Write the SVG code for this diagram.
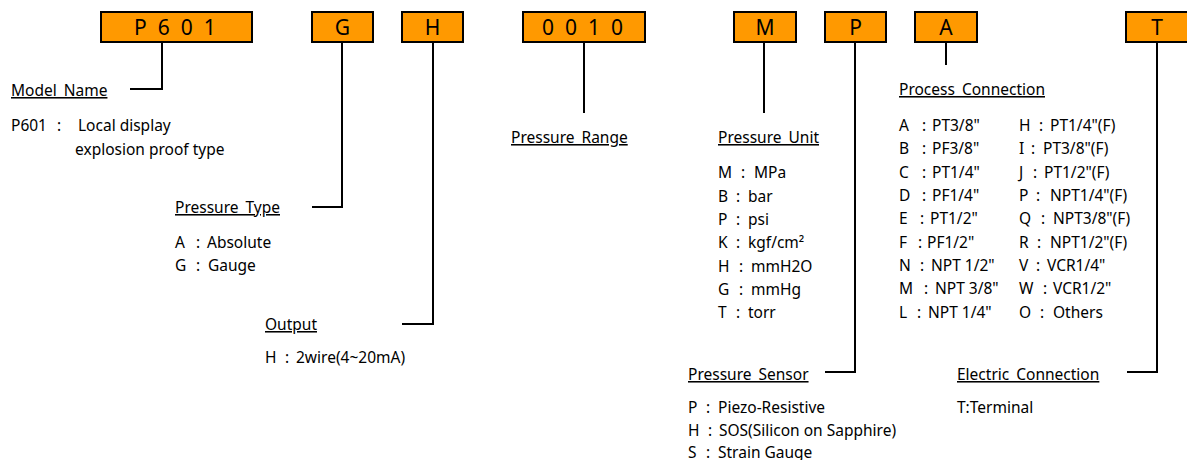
<svg xmlns="http://www.w3.org/2000/svg" width="1187" height="460" viewBox="0 0 1187 460">
<style>
.box{fill:#FF9900;stroke:#000;stroke-width:2}
.bt{font-family:"Noto Sans","DejaVu Sans",sans-serif;font-size:21px;fill:#000}
.c{text-anchor:middle}
.t{font-family:"Noto Sans","DejaVu Sans",sans-serif;font-size:15.5px;fill:#000}
.h{text-decoration:underline;word-spacing:3px}
.ln{fill:none;stroke:#000;stroke-width:2}
</style>
<rect width="1187" height="460" fill="#fff"/>
<g id="connectors">
<path class="ln" d="M162,42V89H130"/>
<path class="ln" d="M342,42V207H312"/>
<path class="ln" d="M433,42V324H402"/>
<path class="ln" d="M584,42V113"/>
<path class="ln" d="M764,42V113"/>
<path class="ln" d="M855,42V372H825"/>
<path class="ln" d="M946,42V65"/>
<path class="ln" d="M1157,42V372H1127"/>
</g>
<g id="n-p601"><rect class="box" x="101" y="12" width="151" height="30"/><text class="bt" x="134" y="35" letter-spacing="11">P601</text></g>
<g id="n-g"><rect class="box" x="312" y="12" width="61" height="30"/><text class="bt c" x="342.5" y="35">G</text></g>
<g id="n-h"><rect class="box" x="402" y="12" width="61" height="30"/><text class="bt c" x="432.5" y="35">H</text></g>
<g id="n-0010"><rect class="box" x="523" y="12" width="122" height="30"/><text class="bt" x="542" y="35" letter-spacing="11">0010</text></g>
<g id="n-m"><rect class="box" x="734" y="12" width="62" height="30"/><text class="bt c" x="765" y="35">M</text></g>
<g id="n-p"><rect class="box" x="825" y="12" width="61" height="30"/><text class="bt c" x="855.5" y="35">P</text></g>
<g id="n-a"><rect class="box" x="915" y="12" width="62" height="30"/><text class="bt c" x="946" y="35">A</text></g>
<g id="n-t"><rect class="box" x="1126" y="12" width="62" height="30"/><text class="bt c" x="1157" y="35">T</text></g>

<g id="model-name">
<text class="t h" x="11" y="96">Model Name</text>
<text class="t" x="11" y="131">P601</text><text class="t" x="57" y="131">:</text><text class="t" x="78" y="131">Local display</text>
<text class="t" x="75" y="155">explosion proof type</text>
</g>
<g id="pressure-type">
<text class="t h" x="175" y="213">Pressure Type</text>
<text class="t" x="175" y="248">A</text><text class="t" x="196" y="248">:</text><text class="t" x="207" y="248">Absolute</text>
<text class="t" x="175" y="271">G</text><text class="t" x="196" y="271">:</text><text class="t" x="208" y="271">Gauge</text>
</g>
<g id="output">
<text class="t h" x="265" y="330">Output</text>
<text class="t" x="265" y="363">H</text><text class="t" x="285" y="363">:</text><text class="t" x="296" y="363">2wire(4~20mA)</text>
</g>
<g id="pressure-range">
<text class="t h" x="511" y="143">Pressure Range</text>
</g>
<g id="pressure-unit">
<text class="t h" x="718" y="143">Pressure Unit</text>
<g class="t">
<text x="718" y="178">M</text><text x="741" y="178">:</text><text x="754" y="178">MPa</text>
<text x="718" y="202">B</text><text x="736" y="202">:</text><text x="748" y="202">bar</text>
<text x="718" y="225">P</text><text x="736" y="225">:</text><text x="748" y="225">psi</text>
<text x="718" y="248">K</text><text x="736" y="248">:</text><text x="748" y="248">kgf/cm²</text>
<text x="718" y="272">H</text><text x="739" y="272">:</text><text x="751" y="272">mmH2O</text>
<text x="718" y="295">G</text><text x="739" y="295">:</text><text x="751" y="295">mmHg</text>
<text x="718" y="318">T</text><text x="736" y="318">:</text><text x="748" y="318">torr</text>
</g>
</g>
<g id="process-connection">
<text class="t h" x="899" y="95">Process Connection</text>
<g class="t">
<text x="899" y="131">A</text><text x="922" y="131">:</text><text x="932" y="131">PT3/8"</text>
<text x="899" y="154">B</text><text x="922" y="154">:</text><text x="932" y="154">PF3/8"</text>
<text x="899" y="178">C</text><text x="922" y="178">:</text><text x="932" y="178">PT1/4"</text>
<text x="899" y="201">D</text><text x="922" y="201">:</text><text x="932" y="201">PF1/4"</text>
<text x="899" y="224">E</text><text x="920" y="224">:</text><text x="930" y="224">PT1/2"</text>
<text x="899" y="248">F</text><text x="918" y="248">:</text><text x="927" y="248">PF1/2"</text>
<text x="899" y="271">N</text><text x="920" y="271">:</text><text x="931" y="271">NPT 1/2"</text>
<text x="899" y="294">M</text><text x="924" y="294">:</text><text x="935" y="294">NPT 3/8"</text>
<text x="899" y="318">L</text><text x="917" y="318">:</text><text x="928" y="318">NPT 1/4"</text>
<text x="1019" y="131">H</text><text x="1039" y="131">:</text><text x="1050" y="131">PT1/4"(F)</text>
<text x="1019" y="154">I</text><text x="1031" y="154">:</text><text x="1043" y="154">PT3/8"(F)</text>
<text x="1019" y="178">J</text><text x="1033" y="178">:</text><text x="1044" y="178">PT1/2"(F)</text>
<text x="1019" y="201">P</text><text x="1036" y="201">:</text><text x="1050" y="201">NPT1/4"(F)</text>
<text x="1019" y="224">Q</text><text x="1041" y="224">:</text><text x="1053" y="224">NPT3/8"(F)</text>
<text x="1019" y="248">R</text><text x="1037" y="248">:</text><text x="1050" y="248">NPT1/2"(F)</text>
<text x="1019" y="271">V</text><text x="1036" y="271">:</text><text x="1047" y="271">VCR1/4"</text>
<text x="1019" y="294">W</text><text x="1043" y="294">:</text><text x="1053" y="294">VCR1/2"</text>
<text x="1019" y="318">O</text><text x="1040" y="318">:</text><text x="1053" y="318">Others</text>
</g>
</g>
<g id="pressure-sensor">
<text class="t h" x="688" y="380">Pressure Sensor</text>
<g class="t">
<text x="688" y="413">P</text><text x="706" y="413">:</text><text x="718" y="413">Piezo-Resistive</text>
<text x="688" y="436">H</text><text x="708" y="436">:</text><text x="719" y="436">SOS(Silicon on Sapphire)</text>
<text x="688" y="458">S</text><text x="706" y="458">:</text><text x="718" y="458">Strain Gauge</text>
</g>
</g>
<g id="electric-connection">
<text class="t h" x="957" y="380">Electric Connection</text>
<text class="t" x="957" y="413">T:Terminal</text>
</g>
</svg>
